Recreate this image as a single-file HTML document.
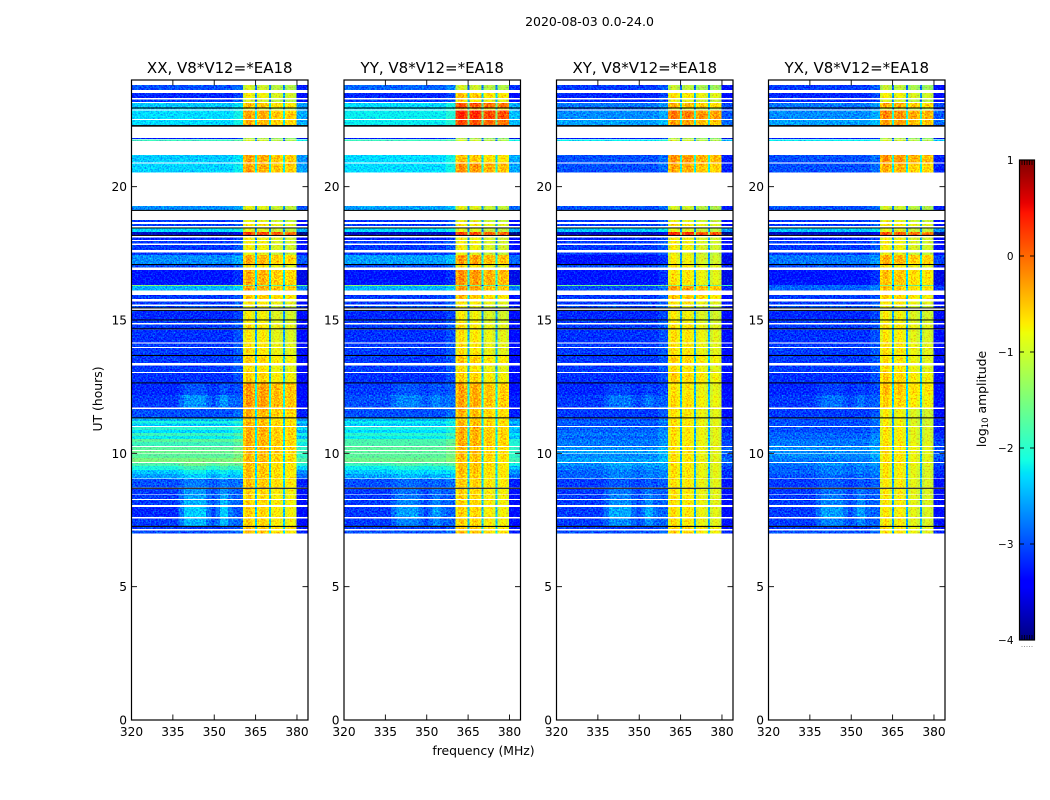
<!DOCTYPE html>
<html>
<head>
<meta charset="utf-8">
<title>2020-08-03 waterfall</title>
<style>
html,body{margin:0;padding:0;background:#fff;width:1050px;height:800px;overflow:hidden}
svg{display:block}
text{font-family:"DejaVu Sans","Liberation Sans",sans-serif;fill:#000}
</style>
</head>
<body>
<svg id="chart" xmlns="http://www.w3.org/2000/svg" width="1050" height="800" viewBox="0 0 1050 800">
  <defs>
    <filter id="speckle" x="0" y="0" width="100%" height="100%" color-interpolation-filters="sRGB">
      <feTurbulence type="fractalNoise" baseFrequency="0.62" numOctaves="2" seed="7" result="n"/>
      <feColorMatrix in="n" type="matrix" values="0 0 0 0 0.5  1.15 0 0 0 -0.07  0 0 0 0 0.5  0 0 0 0 1" result="g"/>
      <feComposite in="SourceGraphic" in2="g" operator="arithmetic" k1="0" k2="1" k3="1" k4="-0.5" result="m"/>
      <feComposite in="m" in2="SourceAlpha" operator="in"/>
    </filter>
  </defs>
  <text x="589.5" y="26" text-anchor="middle" font-size="12.5">2020-08-03 0.0-24.0</text>
  <text x="483.5" y="755" text-anchor="middle" font-size="12.4">frequency (MHz)</text>
  <text transform="translate(102,399) rotate(-90)" text-anchor="middle" font-size="12.4">UT (hours)</text>
  <text transform="translate(986,399) rotate(-90)" text-anchor="middle" font-size="12.4">log<tspan font-size="8.5" dy="2">10</tspan><tspan dy="-2"> amplitude</tspan></text>
  <g id="panels"></g>
  <g id="colorbar"></g>
</svg>
<script>
// ---- categories ----
const panelTitles = ["XX, V8*V12=*EA18", "YY, V8*V12=*EA18", "XY, V8*V12=*EA18", "YX, V8*V12=*EA18"];
const freqTicks = [320, 335, 350, 365, 380];
const utTicks = [0, 5, 10, 15, 20];
const colorTicks = [1, 0, -1, -2, -3, -4];

// ---- frequency channels (MHz) ----
const freqEdges = [320,337,339,347,349,350.5,352,355,357,360.4,361.6,363.6,364.8,365.5,366.7,368.6,369.8,370.5,371.7,373.7,374.9,375.6,376.8,378.7,379.9,384];
const bandChannel = [0,0,0,0,0,0,0,0,0, 1,1,1,1, 1,1,1,1, 1,1,1,1, 1,1,1, 0];
const bumpChannel = [0,0.5,1,0.5,0.15,0.5,1,0.5,0.1, 0,0,0,0, 0,0,0,0, 0,0,0,0, 0,0,0, 0];
const channelGain = [0,0,0,0,0,0,0,0,0.15, -0.15,0.1,-0.1,-1.8, -0.1,0.05,-0.1,-1.8, -0.25,-0.1,-0.25,-1.8, -0.3,-0.15,-0.3, -0.25];

// ---- time bins (UT hours, start) ----
const utStart = [
 23.63,23.33,23.18,22.97,22.89,22.54,22.31,21.78,
 21.71,20.91,20.53,19.13,18.68,18.53,18.30,18.19,
 18.00,17.87,17.63,17.44,17.10,16.96,16.31,16.28,
 16.10,15.78,15.59,15.47,15.02,14.88,14.69,14.15,
 13.99,13.69,13.38,13.05,12.66,12.19,11.71,11.35,
 11.21,11.12,11.03,10.88,10.76,10.65,10.54,10.43,
 10.28,10.13,10.00,9.83,9.68,9.53,9.38,9.23,
 9.06,8.71,8.46,8.29,8.06,7.62,7.28,7.16,7.00];
const utEnd = [
 23.81,23.52,23.27,23.13,22.93,22.86,22.50,21.83,
 21.77,21.19,20.87,19.28,18.75,18.60,18.45,18.30,
 18.10,17.96,17.81,17.54,17.44,17.06,16.88,16.31,
 16.28,15.93,15.69,15.53,15.34,14.99,14.84,14.65,
 14.11,13.95,13.65,13.29,13.01,12.63,12.19,11.66,
 11.31,11.21,11.12,10.99,10.88,10.76,10.65,10.54,
 10.43,10.24,10.08,9.98,9.83,9.64,9.53,9.38,
 9.23,9.03,8.67,8.44,8.25,7.98,7.56,7.24,7.11];

// ---- background level (log10 amplitude) per polarisation ----
const lowXX = [
 -3.0,-3.2,-3.1,-2.4,-2.4,-2.3,-2.3,-3.3,
 -1.9,-2.4,-2.35,-2.7,-3.1,-3.1,-2.3,-3.7,
 -3.2,-3.1,-3.1,-3.1,-2.7,-3.0,-3.3,-1.4,
 -2.5,-3.1,-3.1,-3.0,-3.2,-3.1,-3.1,-3.15,
 -3.1,-3.1,-3.1,-3.1,-3.15,-3.2,-3.1,-3.0,
 -2.5,-2.1,-2.4,-2.0,-2.3,-1.9,-2.2,-1.7,
 -1.9,-1.7,-1.6,-1.7,-1.5,-1.8,-2.1,-2.4,
 -2.6,-3.0,-3.1,-3.1,-3.1,-3.2,-3.1,-3.1,-3.0];
const lowYY = [
 -2.9,-3.2,-3.1,-2.3,-2.3,-2.2,-2.2,-3.3,
 -1.9,-2.3,-2.3,-2.6,-3.1,-3.1,-2.3,-3.7,
 -3.2,-3.1,-3.1,-3.1,-2.6,-3.0,-3.3,-1.4,
 -2.5,-3.1,-3.1,-3.0,-3.2,-3.1,-3.1,-3.15,
 -3.1,-3.1,-3.1,-3.1,-3.15,-3.1,-3.0,-3.0,
 -2.5,-2.2,-2.4,-2.1,-2.3,-2.0,-2.2,-1.8,
 -1.8,-1.7,-1.7,-1.7,-1.6,-1.9,-2.2,-2.4,
 -2.6,-3.0,-3.1,-3.1,-3.1,-3.1,-3.1,-3.1,-3.0];
const lowXY = [
 -3.1,-3.2,-3.2,-2.8,-2.9,-2.7,-2.6,-3.3,
 -2.2,-3.0,-3.0,-3.0,-3.1,-3.1,-2.4,-3.7,
 -3.2,-3.1,-3.1,-3.1,-3.3,-3.0,-3.3,-1.6,
 -3.0,-3.1,-3.1,-3.0,-3.2,-3.1,-3.1,-3.15,
 -3.1,-3.1,-3.1,-3.1,-3.15,-3.2,-3.1,-3.1,
 -3.0,-2.9,-3.0,-2.9,-2.9,-2.8,-2.9,-2.8,
 -2.8,-2.7,-2.6,-2.7,-2.6,-2.7,-2.8,-2.9,
 -2.9,-3.1,-3.1,-3.1,-3.1,-3.1,-3.1,-3.1,-3.0];
const lowYX = [
 -3.1,-3.2,-3.2,-2.8,-2.9,-2.7,-2.6,-3.3,
 -2.2,-3.0,-3.0,-3.0,-3.1,-3.1,-2.4,-3.7,
 -3.2,-3.1,-3.1,-3.1,-2.8,-3.0,-3.3,-2.9,
 -2.9,-3.1,-3.1,-3.0,-3.2,-3.1,-3.1,-3.15,
 -3.1,-3.1,-3.1,-3.1,-3.15,-3.2,-3.1,-3.1,
 -3.0,-3.0,-3.0,-3.0,-3.0,-2.9,-2.9,-2.8,
 -2.8,-2.7,-2.7,-2.7,-2.8,-2.8,-2.9,-2.9,
 -3.0,-3.1,-3.1,-3.1,-3.1,-3.1,-3.1,-3.1,-3.0];

// ---- 360-380 MHz band level per polarisation ----
const highXX = [
 -1.0,-0.8,-1.0,-0.5,-1.0,-0.35,-0.4,-1.2,
 -1.0,-0.35,-0.35,-0.9,-0.9,-0.7,-0.9,0.2,
 -0.8,-0.8,-0.8,-0.9,-0.4,-0.7,-0.4,-1.5,
 -0.35,-0.5,-0.7,-0.9,-0.8,-0.8,-0.7,-0.75,
 -0.7,-0.7,-0.6,-0.7,-0.6,-0.3,-0.3,-0.4,
 -0.5,-0.45,-0.45,-0.4,-0.4,-0.4,-0.4,-0.4,
 -0.4,-0.4,-0.4,-0.45,-0.45,-0.5,-0.5,-0.5,
 -0.5,-0.5,-0.6,-0.6,-0.6,-0.6,-0.6,-0.5,-0.5];
const highYY = [
 -1.0,-0.5,-0.7,0.1,-0.5,0.35,0.15,-1.2,
 -1.0,-0.5,-0.25,-0.9,-0.9,-0.7,-0.9,0.2,
 -0.8,-0.8,-0.8,-0.9,-0.3,-0.7,-0.25,-1.5,
 -0.3,-0.5,-0.7,-0.9,-0.8,-0.8,-0.7,-0.7,
 -0.7,-0.7,-0.55,-0.7,-0.6,-0.35,-0.35,-0.45,
 -0.5,-0.45,-0.45,-0.4,-0.4,-0.4,-0.4,-0.4,
 -0.4,-0.45,-0.45,-0.45,-0.5,-0.5,-0.5,-0.5,
 -0.55,-0.55,-0.6,-0.6,-0.6,-0.6,-0.6,-0.5,-0.5];
const highXY = [
 -1.1,-0.7,-0.9,-0.4,-1.0,-0.1,-0.3,-1.2,
 -1.0,-0.25,-0.35,-1.0,-0.9,-0.7,-0.9,0.3,
 -0.8,-0.8,-0.8,-0.9,-0.8,-0.7,-0.7,-1.5,
 -0.3,-0.5,-0.7,-0.9,-0.8,-0.8,-0.7,-0.7,
 -0.7,-0.7,-0.6,-0.7,-0.6,-0.7,-0.65,-0.7,
 -0.7,-0.7,-0.7,-0.7,-0.7,-0.7,-0.7,-0.7,
 -0.7,-0.7,-0.7,-0.7,-0.7,-0.7,-0.7,-0.7,
 -0.7,-0.7,-0.7,-0.7,-0.7,-0.7,-0.7,-0.6,-0.6];
const highYX = [
 -1.1,-0.8,-1.0,-0.4,-1.0,-0.2,-0.3,-1.2,
 -1.0,-0.25,-0.4,-1.0,-0.9,-0.7,-0.9,0.1,
 -0.8,-0.8,-0.8,-0.9,-0.4,-0.7,-0.5,-1.5,
 -0.5,-0.6,-0.7,-0.9,-0.8,-0.8,-0.7,-0.75,
 -0.7,-0.7,-0.7,-0.7,-0.6,-0.5,-0.6,-0.8,
 -0.8,-0.8,-0.8,-0.75,-0.75,-0.75,-0.75,-0.75,
 -0.7,-0.7,-0.7,-0.7,-0.7,-0.7,-0.75,-0.75,
 -0.75,-0.75,-0.75,-0.75,-0.75,-0.75,-0.75,-0.7,-0.7];

// ---- broadband bump around 337-357 MHz ----
const bump = [
 0,0,0,0,0,0,0,0,
 0,0,0,0,0,0,0,0,
 0,0,0,0,0,0,0,0,
 0,0,0,0,0,0,0,0,
 0,0,0,0,0,0.3,0.6,0,
 0,0,0,0,0,0,0,0,
 0,0,0,0,0,0.3,0.3,0.3,
 0.3,0.3,0.6,0.7,0.8,1.1,0.8,0,0];
const bumpScale = [0.75, 0.45, 0.5, 0.45];

// ---- flagged (black) time bins ----
const blackStart = [22.93,22.25,19.09,18.45,18.17,17.06,15.44,15.34,14.99,14.65,13.65,12.63,11.31,8.67,7.24];
const blackEnd   = [22.97,22.31,19.13,18.47,18.19,17.10,15.47,15.38,15.02,14.69,13.69,12.66,11.35,8.71,7.28];

const lowByPanel = [lowXX, lowYY, lowXY, lowYX];
const highByPanel = [highXX, highYY, highXY, highYX];

// ---- geometry and scales ----
const NS = "http://www.w3.org/2000/svg";
const panelLeft = [131.5, 344, 556.5, 768.5];
const panelW = 176.5, plotTop = 80, plotBottom = 720;
const FREQ_MIN = 320, FREQ_MAX = 384, UT_MIN = 0, UT_MAX = 24, V_MIN = -4, V_MAX = 1;
const cbLeft = 1019.5, cbRight = 1034.5, cbTop = 160, cbBottom = 640;

function xScale(p, f) { return panelLeft[p] + (f - FREQ_MIN) / (FREQ_MAX - FREQ_MIN) * panelW; }
function yScale(u) { return plotBottom - (u - UT_MIN) / (UT_MAX - UT_MIN) * (plotBottom - plotTop); }
function cbScale(v) { return cbBottom - (v - V_MIN) / (V_MAX - V_MIN) * (cbBottom - cbTop); }

function interp(pts, t) {
  for (let i = 1; i < pts.length; i++) {
    if (t <= pts[i][0]) {
      const a = pts[i - 1], b = pts[i];
      return a[1] + (b[1] - a[1]) * (t - a[0]) / (b[0] - a[0]);
    }
  }
  return pts[pts.length - 1][1];
}
const jetR = [[0,0],[0.35,0],[0.66,1],[0.89,1],[1,0.5]];
const jetG = [[0,0],[0.125,0],[0.375,1],[0.64,1],[0.91,0],[1,0]];
const jetB = [[0,0.5],[0.11,1],[0.34,1],[0.65,0],[1,0]];
function jet(v) {
  const t = Math.max(0, Math.min(1, (v - V_MIN) / (V_MAX - V_MIN)));
  return "rgb(" + Math.round(255 * interp(jetR, t)) + "," + Math.round(255 * interp(jetG, t)) + "," + Math.round(255 * interp(jetB, t)) + ")";
}
function make(tag, parent) {
  const e = document.createElementNS(NS, tag);
  parent.appendChild(e);
  return e;
}
function tickLine(parent, x1, y1, x2, y2, w) {
  const l = make("line", parent);
  l.setAttribute("x1", x1);
  l.setAttribute("y1", y1);
  l.setAttribute("x2", x2);
  l.setAttribute("y2", y2);
  l.setAttribute("stroke", "#000");
  l.setAttribute("stroke-width", w);
  return l;
}

const panelsRoot = document.getElementById("panels");
panelTitles.forEach(function (title, p) {
  const g = make("g", panelsRoot);
  
  

  const heat = make("g", g);
  
  
  heat.setAttribute("shape-rendering", "crispEdges");
  heat.setAttribute("filter", "url(#speckle)");

  utStart.forEach(function (u0, r) {
    const y0 = yScale(utEnd[r]), y1 = yScale(u0);
    channelGain.forEach(function (gain, c) {
      let v;
      if (bandChannel[c]) v = highByPanel[p][r] + gain;
      else v = lowByPanel[p][r] + gain + bumpChannel[c] * bump[r] * bumpScale[p];
      const x0 = xScale(p, freqEdges[c]), x1 = xScale(p, freqEdges[c + 1]);
      const cell = make("rect", heat);
      
      
      cell.setAttribute("x", x0.toFixed(2));
      cell.setAttribute("y", y0.toFixed(2));
      cell.setAttribute("width", (x1 - x0).toFixed(2));
      cell.setAttribute("height", (y1 - y0).toFixed(2));
      cell.setAttribute("fill", jet(v));
    });
  });

  blackStart.forEach(function (u0, i) {
    const bar = make("rect", g);
    
    
    bar.setAttribute("x", xScale(p, FREQ_MIN));
    bar.setAttribute("y", yScale(blackEnd[i]));
    bar.setAttribute("width", panelW);
    bar.setAttribute("height", Math.max(1, yScale(u0) - yScale(blackEnd[i])));
    bar.setAttribute("fill", "#000");
  });

  const frame = make("rect", g);
  
  
  frame.setAttribute("x", panelLeft[p]);
  frame.setAttribute("y", plotTop);
  frame.setAttribute("width", panelW);
  frame.setAttribute("height", plotBottom - plotTop);
  frame.setAttribute("fill", "none");
  frame.setAttribute("stroke", "#000");
  frame.setAttribute("stroke-width", "1.2");

  freqTicks.forEach(function (f) {
    const x = xScale(p, f);
    if (f !== FREQ_MIN) {
      const tb = tickLine(g, x, plotBottom, x, plotBottom - 5.5, 0.9);
      
      
      const tt = tickLine(g, x, plotTop, x, plotTop + 5.5, 0.9);
      
      
    }
    const lab = make("text", g);
    
    
    lab.setAttribute("x", x);
    lab.setAttribute("y", 736);
    lab.setAttribute("text-anchor", "middle");
    lab.setAttribute("font-size", "12.2");
    lab.textContent = f;
  });

  utTicks.forEach(function (u) {
    const y = yScale(u);
    if (u !== UT_MIN) {
      const tl = tickLine(g, panelLeft[p], y, panelLeft[p] + 5.5, y, 0.9);
      
      
      const tr = tickLine(g, panelLeft[p] + panelW, y, panelLeft[p] + panelW - 5.5, y, 0.9);
      
      
    }
    const lab = make("text", g);
    
    
    lab.setAttribute("x", panelLeft[p] - 4.5);
    lab.setAttribute("y", y + 4.5);
    lab.setAttribute("text-anchor", "end");
    lab.setAttribute("font-size", "12.2");
    lab.textContent = u;
  });

  const head = make("text", g);
  
  
  head.setAttribute("x", panelLeft[p] + panelW / 2);
  head.setAttribute("y", 73);
  head.setAttribute("text-anchor", "middle");
  head.setAttribute("font-size", "15");
  head.textContent = title;
});

// ---- colorbar ----
const cb = document.getElementById("colorbar");
const cbRamp = make("g", cb);


cbRamp.setAttribute("shape-rendering", "crispEdges");
for (let py = cbTop; py < cbBottom; py++) {
  const slice = make("rect", cbRamp);
  
  
  slice.setAttribute("x", cbLeft);
  slice.setAttribute("y", py);
  slice.setAttribute("width", cbRight - cbLeft);
  slice.setAttribute("height", 1);
  slice.setAttribute("fill", jet(V_MAX - (py + 0.5 - cbTop) / (cbBottom - cbTop) * (V_MAX - V_MIN)));
}
const cbFrame = make("rect", cb);


cbFrame.setAttribute("x", cbLeft);
cbFrame.setAttribute("y", cbTop);
cbFrame.setAttribute("width", cbRight - cbLeft);
cbFrame.setAttribute("height", cbBottom - cbTop);
cbFrame.setAttribute("fill", "none");
cbFrame.setAttribute("stroke", "#000");
cbFrame.setAttribute("stroke-width", "1.2");

colorTicks.forEach(function (v) {
  const y = cbScale(v);
  if (v !== V_MAX && v !== V_MIN) {
    const a = tickLine(cb, cbLeft, y, cbLeft + 4.5, y, 0.9);
    
    
    const b = tickLine(cb, cbRight, y, cbRight - 4.5, y, 0.9);
    
    
  }
  const lab = make("text", cb);
  
  
  lab.setAttribute("x", 1013.5);
  lab.setAttribute("y", y + 4);
  lab.setAttribute("text-anchor", "end");
  lab.setAttribute("font-size", "10.5");
  lab.textContent = String(v).replace("-", "\u2212");
});
for (let i = 1; i < 6; i++) {
  const xm = cbLeft + i * (cbRight - cbLeft) / 6;
  const m1 = tickLine(cb, xm, cbTop, xm, cbTop + 5, 0.8);
  
  
  const m2 = tickLine(cb, xm, cbBottom, xm, cbBottom - 5, 0.8);
  
  
  const d = make("rect", cb);
  
  
  d.setAttribute("x", xm - 0.5);
  d.setAttribute("y", 646);
  d.setAttribute("width", 1);
  d.setAttribute("height", 1);
  d.setAttribute("fill", "#999");
}
</script>
</body>
</html>
